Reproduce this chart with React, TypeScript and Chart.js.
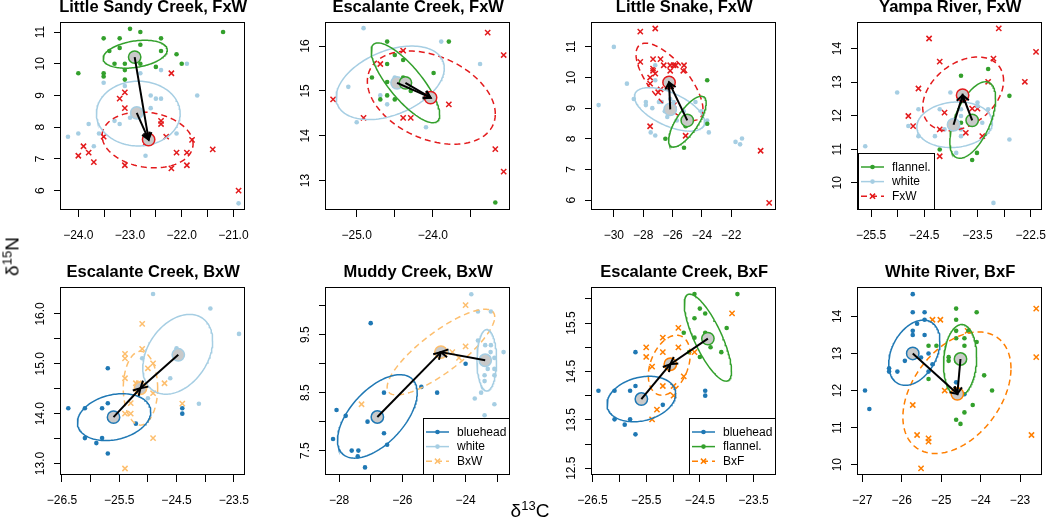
import React, { useEffect, useRef } from 'react';
import { Chart, registerables } from 'chart.js';

Chart.register(...registerables);

type P = [number, number];
// ellipse: [centreX, centreY, halfWidthX, halfHeightY, tilt(correlation)]
type E = [number, number, number, number, number];

const FONT = '"Liberation Sans", Arial, Helvetica, sans-serif';
const GRAY = '#c9c9c9';
const C_BLUEHEAD = '#1f78b4';
const C_WHITE = '#a6cee3';
const C_FLANNEL = '#33a02c';
const C_FXW = '#e31a1c';
const C_BXW = '#fdbf6f';
const C_BXF = '#ff7f00';

// ---------- Panel 1: Little Sandy Creek, FxW ----------
const lsc_flannel: P[] = [[-23.0, 11.1], [-22.8, 11.0], [-23.51, 10.8], [-23.2, 10.8], [-22.4, 10.8], [-22.8, 10.6], [-23.4, 10.4], [-23.2, 10.5], [-22.4, 10.4], [-22.1, 10.3], [-23.3, 10.0], [-23.1, 10.0], [-22.8, 10.0], [-22.0, 10.0], [-22.5, 9.9], [-23.1, 9.8], [-24.0, 9.7], [-23.51, 9.7], [-23.51, 9.6], [-23.1, 9.5], [-21.2, 11.0]];
const lsc_white: P[] = [[-21.9, 10.0], [-22.4, 9.8], [-22.8, 9.7], [-23.51, 9.4], [-23.1, 9.3], [-21.7, 9.0], [-22.6, 9.0], [-22.5, 8.9], [-22.4, 8.9], [-22.6, 8.6], [-23.0, 8.3], [-23.3, 8.2], [-23.2, 8.1], [-23.8, 8.1], [-23.6, 7.8], [-24.0, 7.8], [-24.2, 7.7], [-22.1, 7.8], [-23.7, 7.4], [-22.7, 7.1], [-20.9, 5.6]];
const lsc_fxw: P[] = [[-22.2, 9.7], [-23.1, 9.1], [-23.2, 8.9], [-23.1, 8.6], [-22.4, 8.2], [-22.4, 8.1], [-22.3, 7.7], [-23.51, 7.7], [-23.9, 7.4], [-23.8, 7.2], [-24.0, 7.1], [-23.7, 6.9], [-23.1, 6.8], [-22.7, 7.5], [-22.1, 7.2], [-21.9, 7.2], [-21.8, 7.6], [-21.9, 6.8], [-22.2, 6.7], [-21.4, 7.3], [-20.9, 6.0]];
const lsc_means: P[] = [[-22.91, 10.21], [-22.87, 8.45], [-22.64, 7.61]];
const lsc_ellipses: E[] = [[-22.9, 10.3, 0.62, 0.44, 0.3], [-22.84, 8.43, 0.81, 1.02, 0.0], [-22.66, 7.6, 0.88, 0.88, -0.15]];
const lsc_xlim = [-24.335, -20.77];
const lsc_ylim = [5.39, 11.316];
const lsc_xticks = [-24, -23.5, -23, -22.5, -22, -21.5, -21];
const lsc_xlabels = [-24, -23, -22, -21];
const lsc_yticks = [6, 7, 8, 9, 10, 11];

// ---------- Panel 2: Escalante Creek, FxW ----------
const ecf_flannel: P[] = [[-24.6, 16.1], [-23.79, 16.1], [-24.5, 15.8], [-24.39, 15.69], [-24.6, 15.6], [-23.99, 15.4], [-24.8, 15.3], [-24.39, 15.3], [-24.6, 15.2], [-24.29, 15.0], [-24.6, 14.9], [-24.69, 14.81], [-24.5, 14.81], [-23.18, 12.51]];
const ecf_white: P[] = [[-24.91, 16.4], [-23.89, 16.1], [-23.38, 15.6], [-25.11, 15.09], [-24.5, 15.3], [-24.69, 14.9], [-24.6, 14.7], [-25.0, 14.3], [-24.09, 14.19]];
const ecf_fxw: P[] = [[-23.28, 16.3], [-23.07, 15.8], [-24.39, 15.9], [-24.69, 15.6], [-25.31, 14.81], [-24.91, 14.4], [-24.39, 14.4], [-24.29, 14.4], [-23.79, 14.7], [-23.18, 13.7], [-23.07, 13.2]];
const ecf_means: P[] = [[-24.36, 15.18], [-24.47, 15.18], [-24.03, 14.85]];
const ecf_ellipses: E[] = [[-24.36, 15.18, 0.45, 0.89, -0.8], [-24.56, 15.18, 0.71, 0.82, 0.4], [-24.02, 14.85, 0.84, 1.04, -0.35]];
const ecf_xlim = [-25.403, -22.983];
const ecf_ylim = [12.343, 16.537];
const ecf_xticks = [-25, -24.5, -24, -23.5];
const ecf_xlabels = [-25, -24];
const ecf_yticks = [13, 14, 15, 16];

// ---------- Panel 3: Little Snake, FxW ----------
const ls_flannel: P[] = [[-23.64, 9.91], [-23.64, 8.49], [-26.49, 8.0], [-25.22, 7.71], [-25.11, 8.41]];
const ls_white: P[] = [[-30.0, 11.0], [-31.04, 9.1], [-29.11, 9.8], [-28.64, 9.3], [-27.82, 9.2], [-27.82, 9.1], [-27.38, 9.0], [-26.93, 9.2], [-26.73, 9.2], [-27.18, 9.91], [-27.18, 10.4], [-26.53, 8.9], [-26.36, 8.71], [-26.16, 9.3], [-25.93, 9.2], [-25.71, 8.6], [-25.24, 8.9], [-24.44, 9.2], [-24.04, 8.9], [-23.64, 8.6], [-23.64, 8.49], [-23.53, 8.21], [-27.49, 8.21], [-27.18, 8.11], [-21.71, 7.9], [-21.4, 7.82], [-21.27, 8.01], [-26.4, 9.0]];
const ls_fxw: P[] = [[-28.2, 11.5], [-27.18, 11.6], [-28.2, 10.51], [-27.33, 10.6], [-26.82, 10.6], [-27.33, 10.29], [-27.33, 10.22], [-27.18, 10.13], [-27.53, 10.0], [-26.6, 10.4], [-26.16, 10.4], [-25.93, 10.4], [-25.78, 10.4], [-25.22, 10.4], [-26.16, 10.22], [-25.27, 10.22], [-27.53, 9.8], [-26.82, 9.61], [-26.98, 9.52], [-25.91, 9.1], [-27.53, 8.41], [-25.11, 8.1], [-20.0, 7.61], [-19.42, 5.91]];
const ls_means: P[] = [[-25.0, 8.6], [-26.16, 8.96], [-26.24, 9.84]];
const ls_ellipses: E[] = [[-24.99, 8.56, 1.28, 0.83, 0.74], [-26.21, 8.96, 2.39, 0.71, -0.58], [-26.21, 9.86, 2.28, 1.26, -0.71]];
const ls_xlim = [-31.489, -18.933];
const ls_ylim = [5.677, 11.812];
const ls_xticks = [-30, -28, -26, -24, -22];
const ls_xlabels = [-30, -28, -26, -24, -22];
const ls_yticks = [6, 7, 8, 9, 10, 11];

// ---------- Panel 4: Yampa River, FxW ----------
const yr_flannel: P[] = [[-23.81, 13.19], [-23.3, 13.39], [-22.9, 12.59], [-23.81, 11.79], [-24.21, 10.99], [-23.51, 10.89], [-23.6, 10.68]];
const yr_white: P[] = [[-25.01, 12.69], [-24.01, 12.69], [-24.61, 12.19], [-24.21, 12.19], [-23.81, 12.19], [-23.81, 11.99], [-23.5, 12.39], [-23.5, 12.29], [-23.3, 12.19], [-23.41, 11.79], [-24.8, 11.69], [-24.61, 11.39], [-24.3, 11.39], [-24.12, 11.59], [-23.81, 11.59], [-23.81, 11.39], [-23.9, 10.89], [-25.61, 11.09], [-23.2, 9.4], [-22.9, 11.29]];
const yr_fxw: P[] = [[-24.41, 14.3], [-23.1, 14.6], [-22.4, 13.9], [-24.21, 13.61], [-23.2, 13.7], [-23.3, 13.01], [-22.61, 13.01], [-24.61, 12.81], [-24.8, 11.99], [-24.71, 11.69], [-24.12, 12.09], [-24.21, 11.59], [-23.72, 11.49], [-23.6, 12.21], [-23.5, 12.21], [-23.41, 11.39], [-24.21, 10.79]];
const yr_means: P[] = [[-23.6, 11.86], [-23.95, 11.73], [-23.78, 12.61]];
const yr_ellipses: E[] = [[-23.59, 11.87, 0.43, 1.14, 0.56], [-23.93, 11.73, 0.71, 0.68, 0.1], [-23.77, 12.65, 0.76, 1.1, 0.36]];
const yr_xlim = [-25.746, -22.282];
const yr_ylim = [9.188, 14.792];
const yr_xticks = [-25.5, -25, -24.5, -24, -23.5, -23, -22.5];
const yr_xlabels = [-25.5, -24.5, -23.5, -22.5];
const yr_yticks = [10, 11, 12, 13, 14];

// ---------- Panel 5: Escalante Creek, BxW ----------
const ecw_bluehead: P[] = [[-26.39, 14.11], [-26.1, 14.11], [-25.8, 14.11], [-25.7, 14.21], [-25.7, 14.91], [-26.1, 13.51], [-25.8, 13.51], [-25.9, 13.41], [-25.7, 13.2], [-25.21, 13.8], [-24.4, 14.11], [-24.4, 14.0]];
const ecw_white: P[] = [[-24.91, 16.4], [-23.91, 16.11], [-23.41, 15.6], [-25.1, 15.11], [-24.5, 15.31], [-24.61, 14.71], [-25.0, 14.31], [-24.11, 14.2]];
const ecw_bxw: P[] = [[-25.1, 15.8], [-25.4, 15.2], [-25.4, 15.11], [-25.1, 15.3], [-24.91, 15.01], [-25.0, 14.91], [-25.4, 14.71], [-25.21, 14.61], [-25.16, 14.61], [-24.71, 14.61], [-24.91, 14.41], [-25.3, 14.21], [-25.4, 14.0], [-25.3, 14.0], [-24.91, 13.51], [-25.4, 12.9], [-24.4, 14.2]];
const ecw_means: P[] = [[-25.6, 13.93], [-24.47, 15.18], [-25.13, 14.51]];
const ecw_ellipses: E[] = [[-25.59, 13.93, 0.64, 0.47, 0.23], [-24.48, 15.19, 0.61, 0.8, 0.34], [-25.13, 14.51, 0.3, 0.74, 0.0]];
const ecw_xlim = [-26.517, -23.3];
const ecw_ylim = [12.77, 16.54];
const ecw_xticks = [-26.5, -26, -25.5, -25, -24.5, -24, -23.5];
const ecw_xlabels = [-26.5, -25.5, -24.5, -23.5];
const ecw_yticks = [13, 13.5, 14, 14.5, 15, 15.5, 16];
const ecw_ylabels = [13, 14, 15, 16];

// ---------- Panel 6: Muddy Creek, BxW ----------
const mc_bluehead: P[] = [[-27.0, 9.7], [-28.08, 8.2], [-27.79, 8.1], [-27.1, 8.0], [-26.58, 8.5], [-26.58, 7.8], [-26.48, 7.6], [-28.19, 7.7], [-27.6, 7.5], [-27.39, 7.5], [-27.41, 7.4], [-27.18, 7.21], [-25.4, 8.6], [-24.9, 8.5], [-24.0, 9.0]];
const mc_white: P[] = [[-23.82, 10.2], [-23.61, 9.9], [-23.2, 9.9], [-23.61, 9.4], [-23.38, 9.32], [-23.2, 9.32], [-22.8, 9.2], [-23.21, 9.2], [-23.09, 9.1], [-23.3, 8.91], [-23.09, 8.91], [-23.4, 8.8], [-23.09, 8.8], [-23.4, 8.7], [-23.71, 8.4], [-23.51, 8.5], [-23.09, 8.3], [-23.4, 8.11], [-24.59, 9.2]];
const mc_bxw: P[] = [[-24.0, 10.01], [-24.0, 9.3], [-24.42, 9.2], [-24.21, 9.1], [-27.29, 8.3]];
const mc_means: P[] = [[-26.79, 8.08], [-23.38, 9.06], [-24.78, 9.2]];
const mc_ellipses: E[] = [[-26.79, 8.09, 1.26, 0.72, 0.57], [-23.33, 9.06, 0.31, 0.53, 0.0], [-24.78, 9.2, 1.7, 0.74, 0.82]];
const mc_xlim = [-28.413, -22.587];
const mc_ylim = [7.079, 10.324];
const mc_xticks = [-28, -27, -26, -25, -24, -23];
const mc_xlabels = [-28, -26, -24];
const mc_yticks = [7.5, 8, 8.5, 9, 9.5, 10];
const mc_ylabels = [7.5, 8.5, 9.5];

// ---------- Panel 7: Escalante Creek, BxF ----------
const ecb_bluehead: P[] = [[-26.39, 14.1], [-26.09, 14.1], [-25.8, 14.1], [-25.7, 14.2], [-25.7, 14.9], [-26.09, 13.51], [-25.8, 13.51], [-25.9, 13.4], [-25.7, 13.2], [-25.19, 13.81], [-24.4, 14.1], [-24.4, 14.0]];
const ecb_flannel: P[] = [[-24.6, 16.1], [-23.8, 16.1], [-24.5, 15.8], [-24.6, 15.6], [-24.4, 15.7], [-24.8, 15.3], [-24.4, 15.3], [-24.0, 15.4], [-24.6, 15.2], [-24.3, 15.0], [-24.1, 14.9], [-24.7, 14.9], [-24.5, 14.8], [-23.2, 12.51]];
const ecb_bxf: P[] = [[-23.9, 15.7], [-24.9, 15.4], [-25.19, 15.2], [-24.9, 15.0], [-25.5, 15.0], [-25.5, 14.8], [-25.19, 14.9], [-24.6, 14.9], [-25.39, 14.6], [-24.8, 14.4], [-25.19, 14.2], [-24.99, 14.2], [-24.99, 14.0], [-25.3, 13.71], [-25.39, 13.51]];
const ecb_means: P[] = [[-25.59, 13.93], [-24.35, 15.18], [-25.05, 14.65]];
const ecb_ellipses: E[] = [[-25.59, 13.93, 0.64, 0.47, 0.23], [-24.35, 15.2, 0.44, 0.9, -0.77], [-25.07, 14.63, 0.39, 0.62, 0.35]];
const ecb_xlim = [-26.51, -23.075];
const ecb_ylim = [12.359, 16.247];
const ecb_xticks = [-26.5, -26, -25.5, -25, -24.5, -24, -23.5];
const ecb_xlabels = [-26.5, -25.5, -24.5, -23.5];
const ecb_yticks = [12.5, 13, 13.5, 14, 14.5, 15, 15.5, 16];
const ecb_ylabels = [12.5, 13.5, 14.5, 15.5];

// ---------- Panel 8: White River, BxF ----------
const wr_bluehead: P[] = [[-25.72, 14.6], [-25.72, 14.11], [-25.42, 14.11], [-25.42, 13.91], [-25.61, 13.8], [-25.72, 13.61], [-25.72, 13.5], [-25.42, 13.5], [-25.32, 13.0], [-25.92, 12.8], [-25.51, 12.89], [-25.22, 12.71], [-26.32, 12.6], [-26.32, 12.51], [-26.11, 12.51], [-25.32, 12.51], [-26.93, 12.0], [-26.82, 11.5], [-24.62, 12.22], [-24.41, 11.9]];
const wr_flannel: P[] = [[-24.62, 14.21], [-24.1, 14.11], [-24.62, 13.91], [-24.31, 13.61], [-24.62, 13.61], [-24.62, 13.41], [-24.41, 13.41], [-24.1, 13.31], [-24.41, 13.21], [-25.32, 13.21], [-25.12, 13.21], [-24.81, 12.9], [-24.81, 12.8], [-24.62, 12.8], [-25.32, 12.31], [-23.91, 12.41], [-23.71, 12.0], [-24.2, 11.61], [-24.41, 11.41], [-24.62, 11.21], [-24.51, 11.1]];
const wr_bxf: P[] = [[-25.22, 13.91], [-25.02, 13.91], [-24.33, 13.61], [-22.59, 14.21], [-22.59, 12.9], [-24.91, 12.0], [-25.72, 11.61], [-25.61, 10.8], [-25.32, 10.71], [-25.32, 10.62], [-25.51, 9.9], [-22.71, 10.8]];
const wr_means: P[] = [[-25.72, 13.0], [-24.51, 12.85], [-24.59, 11.91]];
const wr_ellipses: E[] = [[-25.68, 13.02, 0.65, 0.88, 0.35], [-24.52, 12.81, 0.42, 0.97, 0.1], [-24.6, 11.94, 1.37, 1.64, 0.4]];
const wr_xlim = [-27.108, -22.436];
const wr_ylim = [9.721, 14.793];
const wr_xticks = [-27, -26, -25, -24, -23];
const wr_xlabels = [-27, -26, -25, -24, -23];
const wr_yticks = [10, 11, 12, 13, 14];

// ---------- layout ----------
const PLOT = 188;
const PAD_L = 60;
const PAD_T = 26;
const PAD_R = 4;
const PAD_B = 40;
const COL_LEFT = [61, 326, 592, 858];
const ROW_TOP = [22, 287];

interface Group { label: string; color: string; pts: P[]; mean: P; ell: E; hybrid: boolean; }
interface Panel {
  id: string; title: string; col: number; row: number;
  xlim: number[]; ylim: number[];
  xticks: number[]; xlabels: number[]; xdec: number;
  yticks: number[]; ylabels: number[]; ydec: number;
  groups: Group[]; legend?: 'bl' | 'br';
}

function grp(label: string, color: string, pts: P[], mean: P, ell: E, hybrid: boolean): Group {
  return { label, color, pts, mean, ell, hybrid };
}

const PANELS: Panel[] = [
  { id: 'p1', title: 'Little Sandy Creek, FxW', col: 0, row: 0, xlim: lsc_xlim, ylim: lsc_ylim, xticks: lsc_xticks, xlabels: lsc_xlabels, xdec: 1, yticks: lsc_yticks, ylabels: lsc_yticks, ydec: 0,
    groups: [grp('flannel.', C_FLANNEL, lsc_flannel, lsc_means[0], lsc_ellipses[0], false), grp('white', C_WHITE, lsc_white, lsc_means[1], lsc_ellipses[1], false), grp('FxW', C_FXW, lsc_fxw, lsc_means[2], lsc_ellipses[2], true)] },
  { id: 'p2', title: 'Escalante Creek, FxW', col: 1, row: 0, xlim: ecf_xlim, ylim: ecf_ylim, xticks: ecf_xticks, xlabels: ecf_xlabels, xdec: 1, yticks: ecf_yticks, ylabels: ecf_yticks, ydec: 0,
    groups: [grp('flannel.', C_FLANNEL, ecf_flannel, ecf_means[0], ecf_ellipses[0], false), grp('white', C_WHITE, ecf_white, ecf_means[1], ecf_ellipses[1], false), grp('FxW', C_FXW, ecf_fxw, ecf_means[2], ecf_ellipses[2], true)] },
  { id: 'p3', title: 'Little Snake, FxW', col: 2, row: 0, xlim: ls_xlim, ylim: ls_ylim, xticks: ls_xticks, xlabels: ls_xlabels, xdec: 0, yticks: ls_yticks, ylabels: ls_yticks, ydec: 0,
    groups: [grp('flannel.', C_FLANNEL, ls_flannel, ls_means[0], ls_ellipses[0], false), grp('white', C_WHITE, ls_white, ls_means[1], ls_ellipses[1], false), grp('FxW', C_FXW, ls_fxw, ls_means[2], ls_ellipses[2], true)] },
  { id: 'p4', title: 'Yampa River, FxW', col: 3, row: 0, xlim: yr_xlim, ylim: yr_ylim, xticks: yr_xticks, xlabels: yr_xlabels, xdec: 1, yticks: yr_yticks, ylabels: yr_yticks, ydec: 0, legend: 'bl',
    groups: [grp('flannel.', C_FLANNEL, yr_flannel, yr_means[0], yr_ellipses[0], false), grp('white', C_WHITE, yr_white, yr_means[1], yr_ellipses[1], false), grp('FxW', C_FXW, yr_fxw, yr_means[2], yr_ellipses[2], true)] },
  { id: 'p5', title: 'Escalante Creek, BxW', col: 0, row: 1, xlim: ecw_xlim, ylim: ecw_ylim, xticks: ecw_xticks, xlabels: ecw_xlabels, xdec: 1, yticks: ecw_yticks, ylabels: ecw_ylabels, ydec: 1,
    groups: [grp('bluehead', C_BLUEHEAD, ecw_bluehead, ecw_means[0], ecw_ellipses[0], false), grp('white', C_WHITE, ecw_white, ecw_means[1], ecw_ellipses[1], false), grp('BxW', C_BXW, ecw_bxw, ecw_means[2], ecw_ellipses[2], true)] },
  { id: 'p6', title: 'Muddy Creek, BxW', col: 1, row: 1, xlim: mc_xlim, ylim: mc_ylim, xticks: mc_xticks, xlabels: mc_xlabels, xdec: 0, yticks: mc_yticks, ylabels: mc_ylabels, ydec: 1, legend: 'br',
    groups: [grp('bluehead', C_BLUEHEAD, mc_bluehead, mc_means[0], mc_ellipses[0], false), grp('white', C_WHITE, mc_white, mc_means[1], mc_ellipses[1], false), grp('BxW', C_BXW, mc_bxw, mc_means[2], mc_ellipses[2], true)] },
  { id: 'p7', title: 'Escalante Creek, BxF', col: 2, row: 1, xlim: ecb_xlim, ylim: ecb_ylim, xticks: ecb_xticks, xlabels: ecb_xlabels, xdec: 1, yticks: ecb_yticks, ylabels: ecb_ylabels, ydec: 1, legend: 'br',
    groups: [grp('bluehead', C_BLUEHEAD, ecb_bluehead, ecb_means[0], ecb_ellipses[0], false), grp('flannel.', C_FLANNEL, ecb_flannel, ecb_means[1], ecb_ellipses[1], false), grp('BxF', C_BXF, ecb_bxf, ecb_means[2], ecb_ellipses[2], true)] },
  { id: 'p8', title: 'White River, BxF', col: 3, row: 1, xlim: wr_xlim, ylim: wr_ylim, xticks: wr_xticks, xlabels: wr_xlabels, xdec: 0, yticks: wr_yticks, ylabels: wr_yticks, ydec: 0,
    groups: [grp('bluehead', C_BLUEHEAD, wr_bluehead, wr_means[0], wr_ellipses[0], false), grp('flannel.', C_FLANNEL, wr_flannel, wr_means[1], wr_ellipses[1], false), grp('BxF', C_BXF, wr_bxf, wr_means[2], wr_ellipses[2], true)] },
];

function ellipsePoints(e: E) {
  const [cx, cy, hx, hy, r] = e;
  const s = Math.sqrt(1 - r * r);
  const out: { x: number; y: number }[] = [];
  const n = 144;
  for (let i = 0; i <= n; i++) {
    const t = (2 * Math.PI * i) / n;
    out.push({ x: cx + hx * Math.cos(t), y: cy + hy * (r * Math.cos(t) + s * Math.sin(t)) });
  }
  return out;
}

function fmt(v: number, dec: number) {
  const s = Math.abs(v).toFixed(dec);
  return (v < 0 ? '\u2212' : '') + s;
}

function has(list: number[], v: number) {
  return list.some((l) => Math.abs(l - v) < 1e-9);
}

function drawMarker(ctx: CanvasRenderingContext2D, g: Group, x: number, y: number) {
  if (g.hybrid) {
    const d = 2.6;
    ctx.strokeStyle = g.color;
    ctx.lineWidth = 1.5;
    ctx.setLineDash([]);
    ctx.beginPath();
    ctx.moveTo(x - d, y - d); ctx.lineTo(x + d, y + d);
    ctx.moveTo(x - d, y + d); ctx.lineTo(x + d, y - d);
    ctx.stroke();
  } else {
    ctx.fillStyle = g.color;
    ctx.beginPath();
    ctx.arc(x, y, 2.3, 0, Math.PI * 2);
    ctx.fill();
  }
}

function decorPlugin(p: Panel) {
  return {
    id: 'decor_' + p.id,
    afterDatasetsDraw(chart: any) {
      const ctx: CanvasRenderingContext2D = chart.ctx;
      const xs = chart.scales.x;
      const ys = chart.scales.y;
      const hyb = p.groups.find((g) => g.hybrid)!;
      const hx = xs.getPixelForValue(hyb.mean[0]);
      const hy = ys.getPixelForValue(hyb.mean[1]);
      ctx.save();
      ctx.strokeStyle = '#000';
      ctx.lineWidth = 2;
      ctx.setLineDash([]);
      p.groups.filter((g) => !g.hybrid).forEach((g) => {
        const x0 = xs.getPixelForValue(g.mean[0]);
        const y0 = ys.getPixelForValue(g.mean[1]);
        ctx.beginPath();
        ctx.moveTo(x0, y0);
        ctx.lineTo(hx, hy);
        ctx.stroke();
        const ang = Math.atan2(hy - y0, hx - x0);
        const L = 8;
        const a = Math.PI / 6;
        ctx.beginPath();
        ctx.moveTo(hx - L * Math.cos(ang - a), hy - L * Math.sin(ang - a));
        ctx.lineTo(hx, hy);
        ctx.lineTo(hx - L * Math.cos(ang + a), hy - L * Math.sin(ang + a));
        ctx.stroke();
      });
      ctx.restore();
    },
    afterDraw(chart: any) {
      const ctx: CanvasRenderingContext2D = chart.ctx;
      const a = chart.chartArea;
      const xs = chart.scales.x;
      const ys = chart.scales.y;
      ctx.save();
      // box
      ctx.strokeStyle = '#000';
      ctx.lineWidth = 1;
      ctx.setLineDash([]);
      const L = Math.round(a.left) - 0.5;
      const T = Math.round(a.top) + 0.5;
      const R = Math.round(a.right) - 0.5;
      const B = Math.round(a.bottom) - 0.5;
      ctx.strokeRect(L, T, R - L, B - T);
      // tick labels
      ctx.fillStyle = '#000';
      ctx.font = `12px ${FONT}`;
      ctx.textAlign = 'center';
      ctx.textBaseline = 'alphabetic';
      p.xticks.forEach((v) => {
        if (!has(p.xlabels, v)) return;
        ctx.fillText(fmt(v, p.xdec), xs.getPixelForValue(v), a.bottom + 29);
      });
      p.yticks.forEach((v) => {
        if (!has(p.ylabels, v)) return;
        ctx.save();
        ctx.translate(a.left - 17.5, ys.getPixelForValue(v));
        ctx.rotate(-Math.PI / 2);
        ctx.fillText(fmt(v, p.ydec), 0, 0);
        ctx.restore();
      });
      // title
      ctx.font = `bold 16.5px ${FONT}`;
      ctx.fillText(p.title, (a.left + a.right) / 2, a.top - 10);
      // legend
      if (p.legend) {
        ctx.font = `12px ${FONT}`;
        const tw = Math.max(...p.groups.map((g) => ctx.measureText(g.label).width));
        const w = Math.round(34 + tw + 4);
        const h = 57;
        const bx = p.legend === 'bl' ? Math.round(a.left) : Math.round(a.right) - w;
        const by = Math.round(a.bottom) - h;
        ctx.fillStyle = '#fff';
        ctx.fillRect(bx, by, w, h);
        ctx.strokeStyle = '#000';
        ctx.lineWidth = 1;
        ctx.strokeRect(bx + 0.5, by + 0.5, w - 1, h - 1);
        p.groups.forEach((g, i) => {
          const ly = by + 14 + i * 14.6;
          ctx.strokeStyle = g.color;
          ctx.lineWidth = 1.5;
          ctx.setLineDash(g.hybrid ? [6, 4] : []);
          ctx.beginPath();
          ctx.moveTo(bx + 3, ly);
          ctx.lineTo(bx + 26, ly);
          ctx.stroke();
          ctx.setLineDash([]);
          drawMarker(ctx, g, bx + 14.5, ly);
          ctx.fillStyle = '#000';
          ctx.textAlign = 'left';
          ctx.textBaseline = 'middle';
          ctx.fillText(g.label, bx + 34, ly + 0.5);
        });
      }
      ctx.restore();
    },
  };
}

function buildConfig(p: Panel): any {
  const datasets: any[] = [];
  p.groups.forEach((g) => {
    datasets.push({
      label: g.label,
      data: g.pts.map(([x, y]) => ({ x, y })),
      showLine: false,
      pointStyle: g.hybrid ? 'crossRot' : 'circle',
      pointRadius: g.hybrid ? 3.7 : 2.3,
      pointBackgroundColor: g.color,
      pointBorderColor: g.color,
      pointBorderWidth: g.hybrid ? 1.5 : 0,
      order: 3,
    });
  });
  p.groups.forEach((g) => {
    datasets.push({
      label: g.label + ' ellipse',
      data: ellipsePoints(g.ell),
      showLine: true,
      pointRadius: 0,
      borderColor: g.color,
      borderWidth: 1.5,
      borderDash: g.hybrid ? [6, 4] : [],
      fill: false,
      tension: 0,
      order: 2,
    });
  });
  p.groups.forEach((g) => {
    datasets.push({
      label: g.label + ' mean',
      data: [{ x: g.mean[0], y: g.mean[1] }],
      showLine: false,
      pointStyle: 'circle',
      pointRadius: 6.2,
      pointBackgroundColor: GRAY,
      pointBorderColor: g.color,
      pointBorderWidth: 1.5,
      order: 1,
    });
  });
  const gridOpts = { drawOnChartArea: false, drawTicks: true, tickLength: 7, color: '#000', tickColor: '#000', lineWidth: 1 };
  return {
    type: 'scatter',
    data: { datasets },
    options: {
      responsive: false,
      animation: false,
      devicePixelRatio: 1,
      events: [],
      layout: { padding: { left: 0, top: PAD_T, right: PAD_R, bottom: 0 } },
      plugins: { legend: { display: false }, title: { display: false }, tooltip: { enabled: false } },
      scales: {
        x: {
          type: 'linear', position: 'bottom', min: p.xlim[0], max: p.xlim[1],
          afterBuildTicks: (s: any) => { s.ticks = p.xticks.map((v) => ({ value: v })); },
          afterFit: (s: any) => { s.height = PAD_B; },
          ticks: { display: false },
          grid: gridOpts,
          border: { display: false },
        },
        y: {
          type: 'linear', position: 'left', min: p.ylim[0], max: p.ylim[1],
          afterBuildTicks: (s: any) => { s.ticks = p.yticks.map((v) => ({ value: v })); },
          afterFit: (s: any) => { s.width = PAD_L; },
          ticks: { display: false },
          grid: gridOpts,
          border: { display: false },
        },
      },
    },
    plugins: [decorPlugin(p)],
  };
}

function PanelChart({ p }: { p: Panel }) {
  const ref = useRef<HTMLCanvasElement>(null);
  const W = PAD_L + PLOT + PAD_R;
  const H = PAD_T + PLOT + PAD_B;
  useEffect(() => {
    if (!ref.current) return;
    const chart = new Chart(ref.current, buildConfig(p));
    return () => chart.destroy();
  }, [p]);
  return (
    <canvas
      ref={ref}
      width={W}
      height={H}
      style={{ position: 'absolute', left: COL_LEFT[p.col] - PAD_L, top: ROW_TOP[p.row] - PAD_T, width: W, height: H }}
    />
  );
}

export default function App() {
  return (
    <div style={{ position: 'absolute', left: 0, top: 0, width: 1050, height: 519, background: '#fff', overflow: 'hidden', fontFamily: FONT }}>
      {PANELS.map((p) => (
        <PanelChart key={p.id} p={p} />
      ))}
      <div
        style={{ position: 'absolute', left: 12 - 25, top: 256 - 9.5, width: 50, height: 19, lineHeight: '19px', fontSize: 19, textAlign: 'center', transform: 'rotate(-90deg)', transformOrigin: '50% 50%', whiteSpace: 'nowrap', color: '#000' }}
      >
        δ<span style={{ fontSize: 13, position: 'relative', top: -7 }}>15</span>N
      </div>
      <div
        style={{ position: 'absolute', left: 530 - 25, top: 501, width: 50, height: 19, lineHeight: '19px', fontSize: 19, textAlign: 'center', whiteSpace: 'nowrap', color: '#000' }}
      >
        δ<span style={{ fontSize: 13, position: 'relative', top: -7 }}>13</span>C
      </div>
    </div>
  );
}
